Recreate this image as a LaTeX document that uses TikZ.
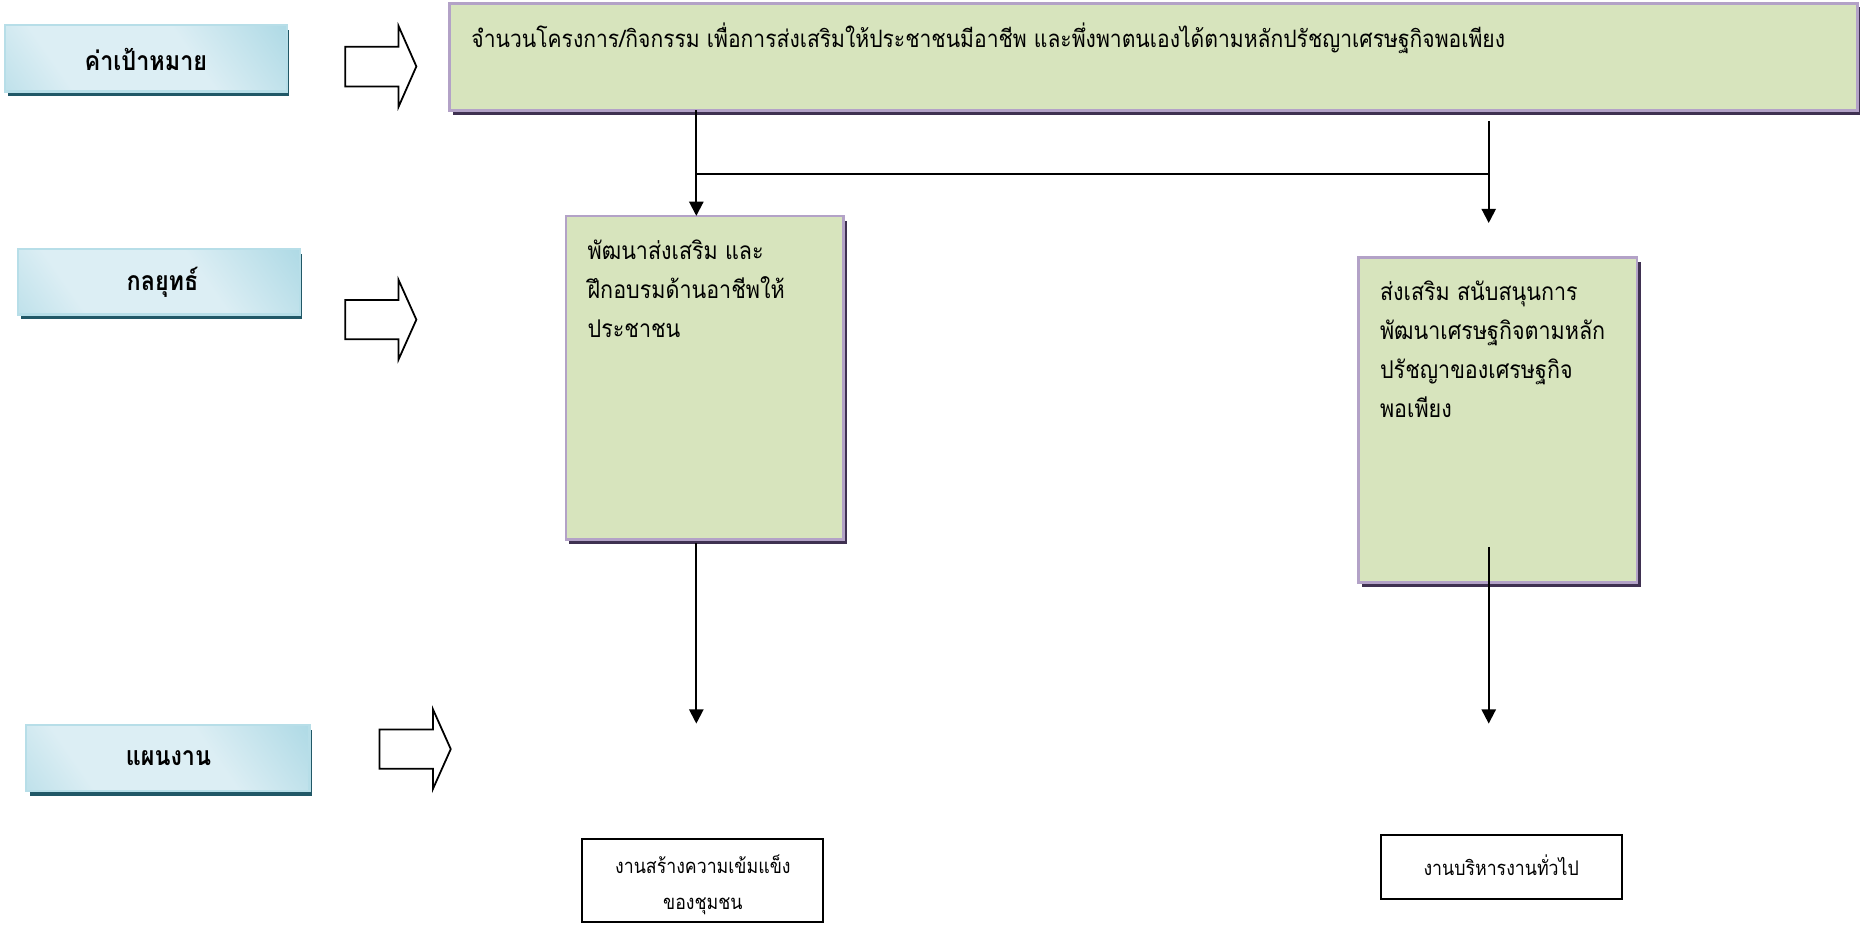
\documentclass[tikz,border=0pt]{standalone}
\usepackage{fontspec}
\newfontfamily\thai[Script=Thai, FakeStretch=0.88]{Loma}
\usetikzlibrary{arrows.meta}
\definecolor{lbdark}{HTML}{92CDDC}
\definecolor{lblight}{HTML}{DCEEF4}
\definecolor{lbborder}{HTML}{B7DEE8}
\definecolor{lbshadow}{HTML}{215867}
\definecolor{gfill}{HTML}{D7E4BD}
\definecolor{gborder}{HTML}{B3A2C7}
\definecolor{gshadow}{HTML}{3F3151}
\pgfdeclarehorizontalshading{lblshade}{100bp}{color(0bp)=(lbdark!80!lblight); color(30bp)=(lblight); color(60bp)=(lblight); color(100bp)=(lbdark)}
\tikzset{
  lbl/.style={draw=lbborder, line width=1pt, shading=lblshade, shading angle=35, inner sep=0pt},
  lbltext/.style={font=\thai\bfseries\fontsize{11.2}{13}\selectfont, inner sep=0pt},
  gbox/.style={draw=gborder, fill=gfill, line width=1.1pt},
  gtext/.style={font=\thai\fontsize{10.3}{16.5}\selectfont, align=left, anchor=north west, inner sep=0pt},
  wbox/.style={draw=black, line width=0.8pt, fill=white},
  wtext/.style={font=\thai\fontsize{8.5}{15}\selectfont, align=center, inner sep=0pt},
  blockarrow/.style={draw=black, line width=0.75pt, fill=white, line join=miter},
  conn/.style={draw=black, line width=0.85pt},
  connarr/.style={conn, -{Triangle[length=6pt,width=6pt]}}
}
\begin{document}
\begin{tikzpicture}[x=0.5pt, y=-0.5pt]
\useasboundingbox[fill=white] (0,0) rectangle (1568,779);

% ---- label boxes (left column) ----
\fill[lbshadow] (7,25) rectangle (244,81);
\path[lbl] (4,21) rectangle (242,77);
\node[lbltext] (l1) at (123,50) {ค่าเป้าหมาย};

\fill[lbshadow] (18,214) rectangle (255,269);
\path[lbl] (15,210) rectangle (253,265);
\node[lbltext] (l2) at (137,238) {กลยุทธ์};

\fill[lbshadow] (25,615) rectangle (263,671);
\path[lbl] (22,611) rectangle (261,667);
\node[lbltext] (l3) at (142,639) {แผนงาน};

% ---- hollow block arrows ----
\draw[blockarrow] (291,39.5) -- (336,39.5) -- (336,22) -- (351,56) -- (336,90) -- (336,73) -- (291,73) -- cycle;
\draw[blockarrow] (291,253) -- (336,253) -- (336,236) -- (351,269.5) -- (336,303) -- (336,286) -- (291,286) -- cycle;
\draw[blockarrow] (320,615) -- (365,615) -- (365,598) -- (380,631.5) -- (365,665) -- (365,648) -- (320,648) -- cycle;

% ---- green boxes ----
\fill[gshadow] (382,6) rectangle (1569,97);
\path[gbox] (379,3) rectangle (1566,93);
\node[gtext, font=\thai\fontsize{10.1}{14}\selectfont, anchor=west] (top) at (397,32) {จำนวนโครงการ/กิจกรรม เพื่อการส่งเสริมให้ประชาชนมีอาชีพ และพึ่งพาตนเองได้ตามหลักปรัชญาเศรษฐกิจพอเพียง};
\coordinate (topL) at (587,93);
\coordinate (topR) at (1255,102);

\fill[gshadow] (480,186) rectangle (714,459);
\path[gbox] (477,182) rectangle (711,455);
\coordinate (b2n) at (587,182);
\coordinate (b2s) at (587,458);
\node[gtext] (b2) at (495,202) {พัฒนาส่งเสริม และ\\ฝึกอบรมด้านอาชีพให้\\ประชาชน};

\fill[gshadow] (1148,221) rectangle (1383,495);
\path[gbox] (1145,217) rectangle (1380,491);
\node[gtext] (b3) at (1163,236) {ส่งเสริม สนับสนุนการ\\พัฒนาเศรษฐกิจตามหลัก\\ปรัชญาของเศรษฐกิจ\\พอเพียง};
\coordinate (b3in) at (1255,461);

% ---- connectors ----
\coordinate (jL) at (587,147);
\coordinate (jR) at (1255,147);
\coordinate (endR) at (1255,188);
\coordinate (endL2) at (587,610);
\coordinate (endR2) at (1255,610);
\draw[connarr] (topL) -- (b2n);
\draw[conn] (jL) -- (jR);
\draw[connarr] (topR) -- (endR);
\draw[connarr] (b2s) -- (endL2);
\draw[connarr] (b3in) -- (endR2);

% ---- white boxes ----
\node[wbox, minimum width=101.5pt, minimum height=35pt, inner sep=0pt] (w1) at (592.5,742) {};
\node[wtext] (w1t) at (592.5,746) {งานสร้างความเข้มแข็ง\\ของชุมชน};
\node[wbox, minimum width=101.5pt, minimum height=27pt, inner sep=0pt] (w2) at (1265.5,731) {};
\node[wtext] (w2t) at (1265.5,729) {งานบริหารงานทั่วไป};
\end{tikzpicture}
\end{document}
